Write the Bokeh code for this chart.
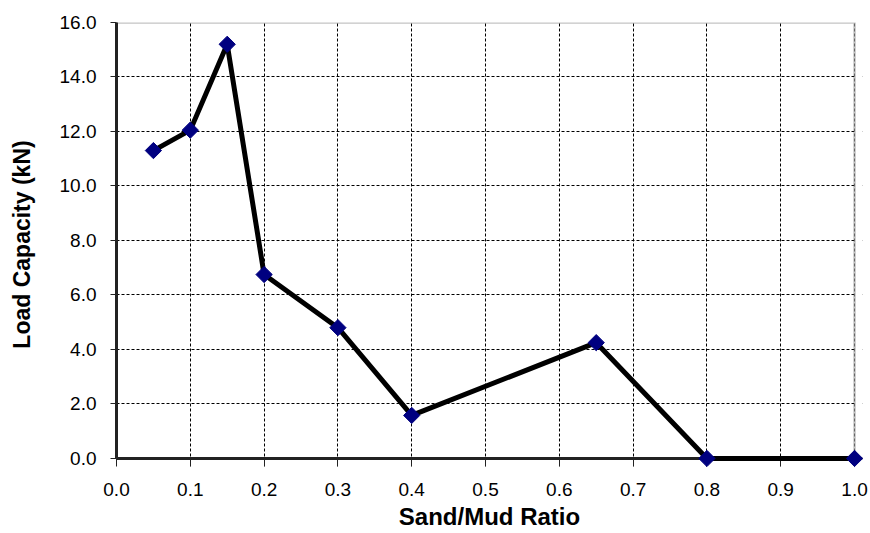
import math
from bokeh.plotting import figure
from bokeh.embed import file_html
from bokeh.resources import INLINE
from bokeh.models import Range1d, FixedTicker, NumeralTickFormatter, BoxAnnotation, Span

ratio = [0.05, 0.1, 0.15, 0.2, 0.3, 0.4, 0.65, 0.8, 1.0]
load_kn = [11.3, 12.05, 15.2, 6.75, 4.8, 1.58, 4.25, 0.0, 0.0]
x_ticks = [0.0, 0.1, 0.2, 0.3, 0.4, 0.5, 0.6, 0.7, 0.8, 0.9, 1.0]
y_ticks = [0, 2, 4, 6, 8, 10, 12, 14, 16]
x_min, x_max = 0.0, 1.0
y_min, y_max = 0.0, 16.0

# a little padding beyond the axes so that the edge markers are not clipped
p = figure(width=868, height=533, output_backend="svg", toolbar_location=None,
           x_range=Range1d(x_min, x_max + 0.0108), y_range=Range1d(y_min - 0.295, y_max),
           min_border_left=116, min_border_right=6, min_border_top=22, min_border_bottom=67)
p.background_fill_color = "white"
p.outline_line_color = None

p.grid.grid_line_color = "black"
p.grid.grid_line_dash = "3 2"
p.grid.grid_line_width = 1

# white masks hide the grid inside the padding
p.add_layout(BoxAnnotation(top=y_min, fill_color="white", fill_alpha=1, line_color=None, level="underlay"))
p.add_layout(BoxAnnotation(left=x_max, fill_color="white", fill_alpha=1, line_color=None, level="underlay"))
# plot-area border
p.add_layout(BoxAnnotation(left=x_min, right=x_max, bottom=y_min, top=y_max, fill_alpha=0,
                           line_color="#3a3a3a", line_width=2.5, level="underlay"))
# x axis line at y = 0
p.add_layout(Span(location=y_min, dimension="width", line_color="#222222", line_width=3))

p.line(ratio, load_kn, line_color="black", line_width=5, level="overlay")
p.scatter(ratio, load_kn, marker="square", angle=math.pi / 4, size=11.5,
          fill_color="#000080", line_color="#000080", level="overlay")

for ax, ticks in ((p.xaxis, x_ticks), (p.yaxis, y_ticks)):
    ax.ticker = FixedTicker(ticks=ticks)
    ax.formatter = NumeralTickFormatter(format="0.0")
    ax.axis_line_width = 3
    ax.axis_line_color = "#222222"
    ax.major_tick_line_color = "#222222"
    ax.minor_tick_line_color = None
    ax.major_label_text_font = "Liberation Sans"
    ax.major_label_text_font_size = "19px"
    ax.major_label_text_color = "black"
    ax.axis_label_text_font = "Liberation Sans"
    ax.axis_label_text_font_style = "bold"
    ax.axis_label_text_color = "black"

p.yaxis.bounds = (y_min, y_max)
p.yaxis.major_tick_in = 0
p.yaxis.major_tick_out = 6
p.yaxis.major_label_standoff = 14
p.yaxis.axis_label = "Load Capacity (kN)"
p.yaxis.axis_label_text_font_size = "23px"
p.yaxis.axis_label_standoff = 22

p.xaxis.bounds = (x_min, x_max)
p.xaxis.axis_line_color = None
p.xaxis.major_tick_in = 8
p.xaxis.major_tick_out = 0
p.xaxis.major_label_standoff = 16
p.xaxis.axis_label = "Sand/Mud Ratio"
p.xaxis.axis_label_text_font_size = "24px"
p.xaxis.axis_label_standoff = 4

open("out.html", "w").write(file_html(p, INLINE))
